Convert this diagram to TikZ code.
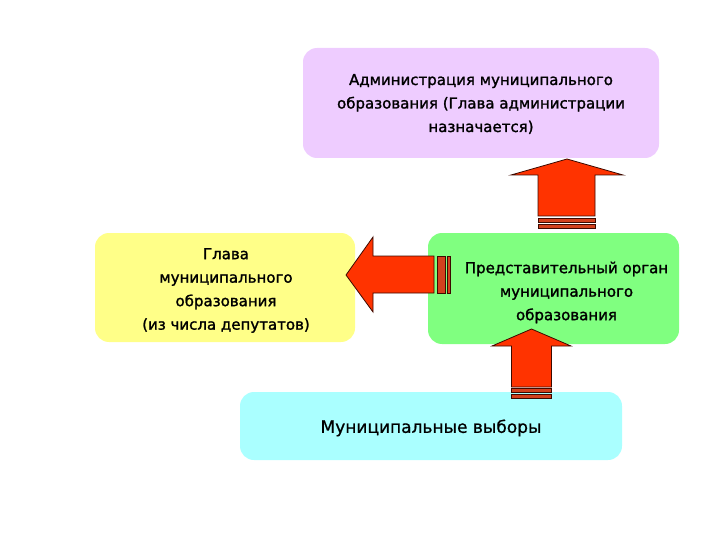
\documentclass[tikz,border=0pt]{standalone}
\usepackage{fontspec}
\setmainfont{DejaVu Sans}
\newfontfamily\boxfont[FakeBold=1.5]{DejaVu Sans}
\newfontfamily\votefont[FakeBold=0.8]{DejaVu Sans}
\usetikzlibrary{positioning}
\definecolor{lilac}{RGB}{238,204,255}
\definecolor{lemon}{RGB}{255,255,136}
\definecolor{mint}{RGB}{128,255,128}
\definecolor{aqua}{RGB}{170,255,255}
\definecolor{arrowred}{RGB}{255,51,0}
\definecolor{stripered}{RGB}{210,65,30}
\definecolor{edgedark}{RGB}{60,10,0}

\begin{document}
\begin{tikzpicture}[x=1pt,y=-1pt,
  box/.style={rounded corners=14pt,inner sep=0pt},
  boxtext/.style={align=center,inner sep=0pt,
    font=\boxfont\fontsize{15}{23.5}\selectfont},
  blockarrow/.style={fill=arrowred,draw=edgedark,line width=0.8pt},
  stripe/.style={fill=stripered,draw=edgedark,line width=0.8pt}]
\useasboundingbox (0,0) rectangle (720,540);
% Boxes
\node[box,fill=lilac,minimum width=356,minimum height=110,
  label={[boxtext,yshift=-1]center:Администрация муниципального\\образования (Глава администрации\\назначается)}]
  (admin) at (481,103) {};
\node[box,fill=lemon,minimum width=260,minimum height=109,
  label={[boxtext,xshift=1,yshift=-3]center:Глава\\муниципального\\образования\\(из числа депутатов)}]
  (head) at (225,287.5) {};
\node[box,fill=mint,minimum width=251,minimum height=111,
  label={[boxtext,xshift=13,yshift=-4]center:Представительный орган\\муниципального\\образования}]
  (council) at (553.5,288.5) {};
\node[box,fill=aqua,minimum width=382,minimum height=68,
  label={[boxtext,font=\votefont\fontsize{17}{20}\selectfont,yshift=-2]center:Муниципальные выборы}]
  (vote) at (431,426) {};
% Arrow: council -> admin
\coordinate (tipA) at (567,159);
\draw[blockarrow] (tipA) -- ++(56,16) -- ++(-28,0) -- ++(0,41) -- ++(-57,0)
  -- ++(0,-41) -- ++(-27,0) -- cycle;
\draw[stripe] (538,218.5) rectangle (595,222.5);
\draw[stripe] (538,224.5) rectangle (595,228.5);
% Arrow: council -> head
\coordinate (tipB) at (346,275);
\draw[blockarrow] (tipB) -- ++(27,-38) -- ++(0,19) -- ++(61,0) -- ++(0,37)
  -- ++(-61,0) -- ++(0,19) -- cycle;
\draw[stripe] (437,256) rectangle (445,293);
\draw[stripe] (447,256) rectangle (450,293);
% Arrow: vote -> council
\coordinate (tipC) at (531.5,329);
\draw[blockarrow] (tipC) -- ++(39.5,17) -- ++(-19.5,0) -- ++(0,41) -- ++(-40,0)
  -- ++(0,-41) -- ++(-19.5,0) -- cycle;
\draw[stripe] (511,388.5) rectangle (551,392.5);
\draw[stripe] (511,394.5) rectangle (551,398.5);
\end{tikzpicture}
\end{document}
